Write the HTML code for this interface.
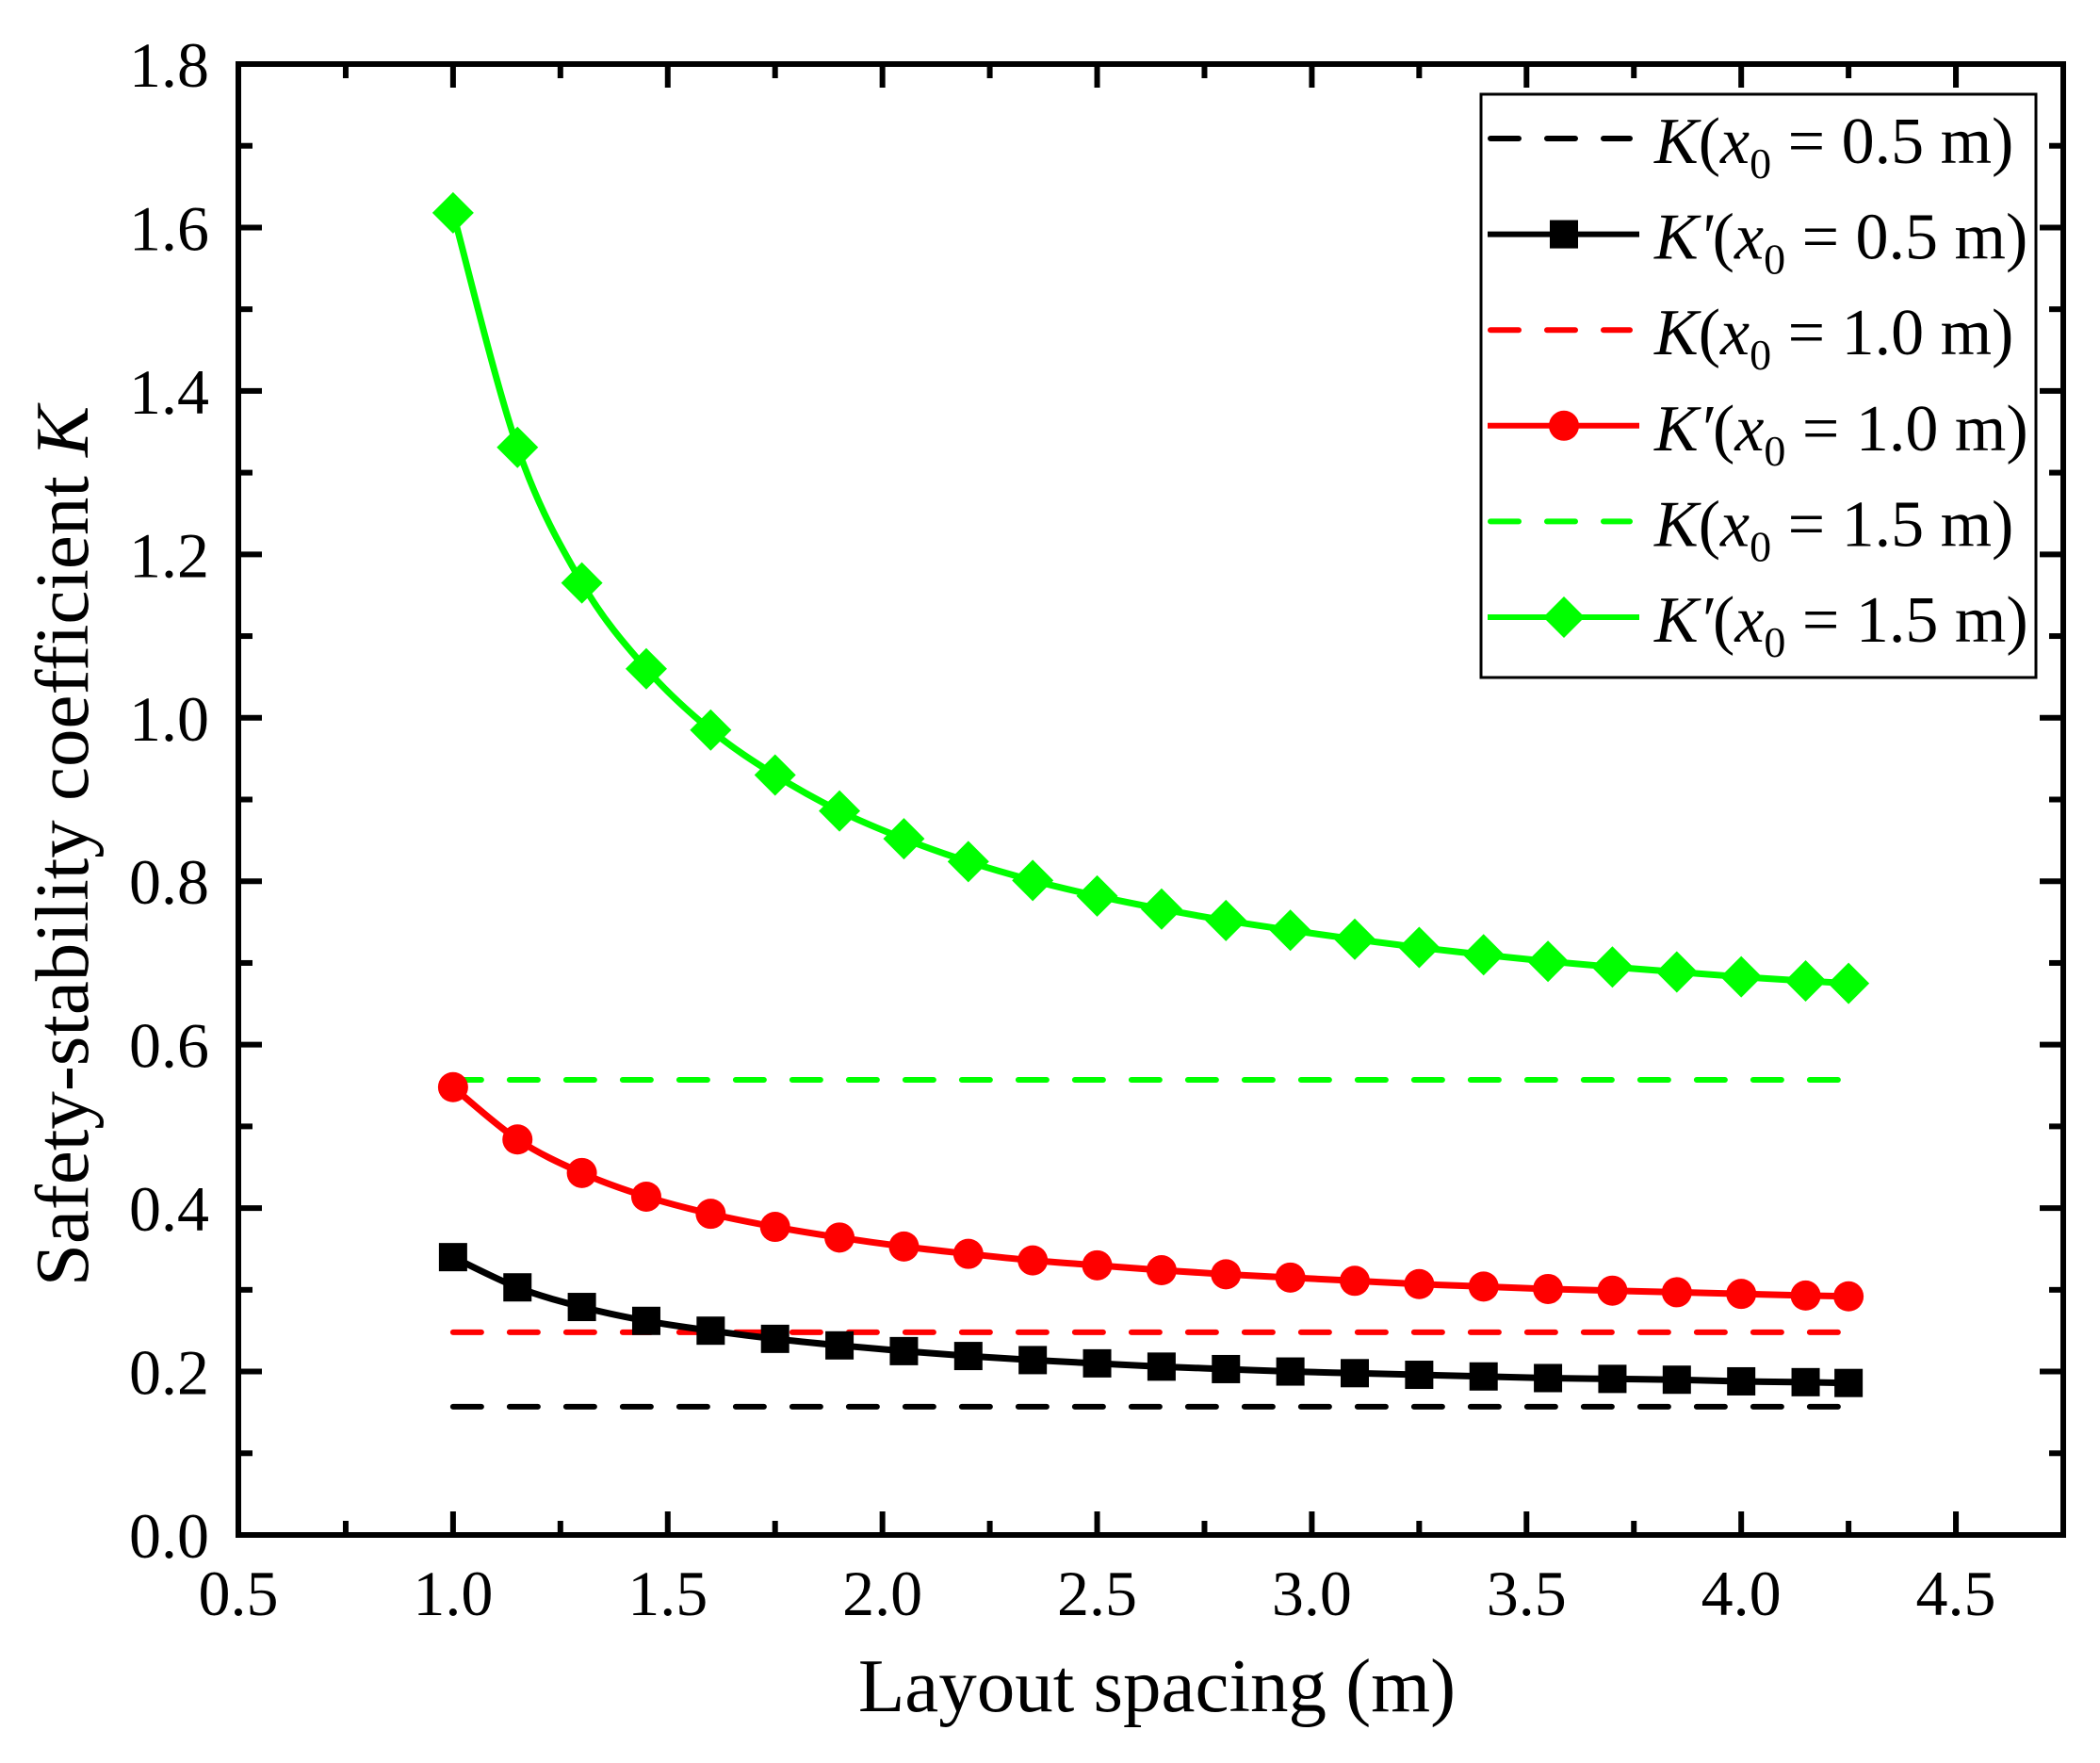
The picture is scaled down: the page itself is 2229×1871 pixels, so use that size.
<!DOCTYPE html>
<html><head><meta charset="utf-8"><style>
html,body{margin:0;padding:0;background:#fff;}
svg{display:block;font-family:"Liberation Serif","DejaVu Serif",serif;}
</style></head><body>
<svg id="chart" width="2229" height="1871" viewBox="0 0 2229 1871" xmlns="http://www.w3.org/2000/svg">
<g id="plot"></g>
<g id="axes"></g>
<g id="legend"></g>
</svg>
<script>
const xVals = [1.0,1.15,1.3,1.45,1.6,1.75,1.9,2.05,2.2,2.35,2.5,2.65,2.8,2.95,3.1,3.25,3.4,3.55,3.7,3.85,4.0,4.15,4.25];
const kPrime05 = [0.340,0.303,0.279,0.262,0.250,0.240,0.232,0.225,0.219,0.214,0.210,0.206,0.203,0.200,0.198,0.196,0.194,0.192,0.191,0.190,0.188,0.187,0.186];
const kPrime10 = [0.548,0.484,0.443,0.414,0.393,0.377,0.364,0.353,0.344,0.336,0.330,0.324,0.319,0.315,0.311,0.307,0.304,0.301,0.299,0.297,0.295,0.293,0.292];
const kPrime15 = [1.618,1.331,1.165,1.060,0.985,0.930,0.886,0.852,0.824,0.801,0.782,0.766,0.752,0.740,0.729,0.719,0.710,0.702,0.695,0.689,0.683,0.678,0.675];
const kConst = [0.157,0.248,0.557];
const kConstRange = [1.0,4.25];
const xTicks = [0.5,1.0,1.5,2.0,2.5,3.0,3.5,4.0,4.5];
const xTickLabels = ["0.5","1.0","1.5","2.0","2.5","3.0","3.5","4.0","4.5"];
const yTicks = [0,0.2,0.4,0.6,0.8,1.0,1.2,1.4,1.6,1.8];
const yTickLabels = ["0.0","0.2","0.4","0.6","0.8","1.0","1.2","1.4","1.6","1.8"];

const NS="http://www.w3.org/2000/svg";
const L=253,R=2190,T=68,B=1629;
const XMIN=0.5,XMAX=4.75,YMIN=0,YMAX=1.8;
function sx(v){return L+(v-XMIN)/(XMAX-XMIN)*(R-L);}
function sy(v){return B-(v-YMIN)/(YMAX-YMIN)*(B-T);}
function mk(tag,attrs,parent){const e=document.createElementNS(NS,tag);for(const k in attrs)e.setAttribute(k,attrs[k]);parent.appendChild(e);return e;}
const plot=document.getElementById('plot'),axes=document.getElementById('axes'),legend=document.getElementById('legend');

function smoothPath(xs,ys){
  const p=xs.map((x,i)=>[sx(x),sy(ys[i])]);
  let d=`M${p[0][0]},${p[0][1]}`;
  for(let i=0;i<p.length-1;i++){
    const p0=p[i-1]||p[i],p1=p[i],p2=p[i+1],p3=p[i+2]||p2;
    const c1=[p1[0]+(p2[0]-p0[0])/6,p1[1]+(p2[1]-p0[1])/6];
    const c2=[p2[0]-(p3[0]-p1[0])/6,p2[1]-(p3[1]-p1[1])/6];
    d+=` C${c1[0]},${c1[1]} ${c2[0]},${c2[1]} ${p2[0]},${p2[1]}`;
  }
  return d;
}
const colors=["#000000","#ff0000","#00ff00"];
kConst.forEach((v,i)=>{
  const ln=mk('line',{x1:sx(kConstRange[0]),x2:sx(kConstRange[1]),y1:sy(v),y2:sy(v),stroke:colors[i],'stroke-width':6,'stroke-dasharray':'30 30','stroke-linecap':'round'},plot);
  
  
});
function marker(type,cx,cy,color,parent){
  let e;
  if(type==='square') e=mk('rect',{x:cx-15,y:cy-15,width:30,height:30,fill:color},parent);
  else if(type==='circle') e=mk('circle',{cx:cx,cy:cy,r:16,fill:color},parent);
  else e=mk('polygon',{points:`${cx},${cy-22} ${cx+22},${cy} ${cx},${cy+22} ${cx-22},${cy}`,fill:color},parent);
  return e;
}
const series=[[kPrime05,'square'],[kPrime10,'circle'],[kPrime15,'diamond']];
series.forEach(([ys,type],i)=>{
  const g=mk('g',{},plot);
  
  
  mk('path',{d:smoothPath(xVals,ys),fill:'none',stroke:colors[i],'stroke-width':7},g);
  xVals.forEach((x,j)=>{
    const m=marker(type,sx(x),sy(ys[j]),colors[i],g);
    
    
  });
});
const frame=mk('rect',{x:L,y:T,width:R-L,height:B-T,fill:'none',stroke:'#000','stroke-width':6},axes);


xTicks.forEach((v,i)=>{
  const x=sx(v);
  mk('line',{x1:x,x2:x,y1:B,y2:B-25,stroke:'#000','stroke-width':6},axes);
  mk('line',{x1:x,x2:x,y1:T,y2:T+25,stroke:'#000','stroke-width':6},axes);
  const xm=sx(v+0.25);
  if(v+0.25<XMAX){
    mk('line',{x1:xm,x2:xm,y1:B,y2:B-15,stroke:'#000','stroke-width':6},axes);
    mk('line',{x1:xm,x2:xm,y1:T,y2:T+15,stroke:'#000','stroke-width':6},axes);
  }
  const t=mk('text',{x:x,y:1714,'text-anchor':'middle','font-size':68},axes);
  t.textContent=xTickLabels[i];
  
  
});
yTicks.forEach((v,i)=>{
  const y=sy(v);
  mk('line',{x1:L,x2:L+25,y1:y,y2:y,stroke:'#000','stroke-width':6},axes);
  mk('line',{x1:R,x2:R-25,y1:y,y2:y,stroke:'#000','stroke-width':6},axes);
  if(v+0.1<YMAX){
    const ym=sy(v+0.1);
    mk('line',{x1:L,x2:L+15,y1:ym,y2:ym,stroke:'#000','stroke-width':6},axes);
    mk('line',{x1:R,x2:R-15,y1:ym,y2:ym,stroke:'#000','stroke-width':6},axes);
  }
  const t=mk('text',{x:222,y:y+24,'text-anchor':'end','font-size':68},axes);
  t.textContent=yTickLabels[i];
  
  
});
const xt=mk('text',{x:1228,y:1816,'text-anchor':'middle','font-size':81},axes);
xt.textContent='Layout spacing (m)';


const yt=mk('text',{x:0,y:0,'text-anchor':'middle','font-size':81,transform:'translate(93,898) rotate(-90)'},axes);
yt.innerHTML='Safety-stability coefficient <tspan font-style="italic">K</tspan>';


const lb=mk('rect',{x:1572,y:100,width:589,height:619,fill:'#fff',stroke:'#000','stroke-width':3},legend);


const rows=[
 [0,'dash',"",'0.5'],[0,'square',"'",'0.5'],
 [1,'dash',"",'1.0'],[1,'circle',"′",'1.0'],
 [2,'dash',"",'1.5'],[2,'diamond',"′",'1.5']];
rows.forEach((r,i)=>{
  const y=147+i*101.6;
  const g=mk('g',{},legend);
  
  
  if(r[1]==='dash') mk('line',{x1:1582,x2:1730,y1:y,y2:y,stroke:colors[r[0]],'stroke-width':6,'stroke-dasharray':'30 30','stroke-linecap':'round'},g);
  else {mk('line',{x1:1579,x2:1740,y1:y,y2:y,stroke:colors[r[0]],'stroke-width':6},g);marker(r[1],1660,y,colors[r[0]],g);}
  const t=mk('text',{x:1756,y:y+26,'font-size':70},g);
  t.innerHTML=`<tspan font-style="italic">K${r[2]}</tspan>(<tspan font-style="italic">x</tspan><tspan font-size="46" dy="16">0</tspan><tspan dy="-16"> = ${r[3]} m)</tspan>`;
});
</script>
</body></html>
